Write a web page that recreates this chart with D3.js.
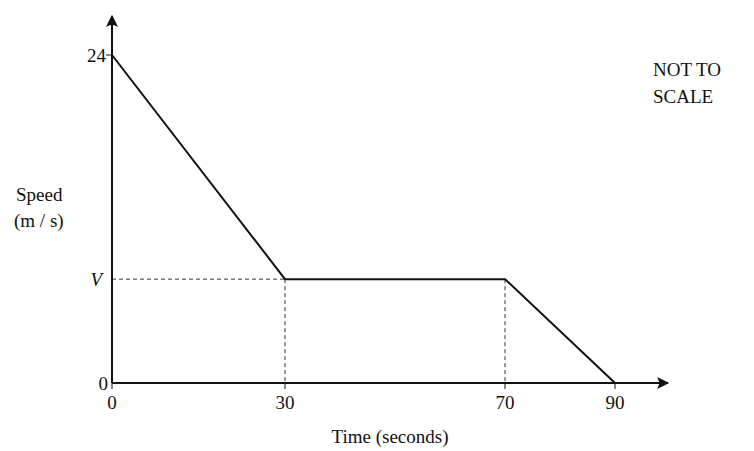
<!DOCTYPE html>
<html><head><meta charset="utf-8">
<script src="https://cdn.jsdelivr.net/npm/d3@7"></script>
<style>body{margin:0;background:#fff}text{font-family:"Times New Roman","Liberation Serif",Times,serif;font-size:19px;fill:#111}</style>
</head><body><div id="chart"></div>
<script>
// graph is "not to scale", so a piecewise time scale
const times = [0, 30, 70, 90];
const speeds = [24, 7.6, 7.6, 0];
const xTicks = [0, 30, 70, 90];
const vLevel = 7.6;

const svg = d3.select("#chart").append("svg").attr("width", 754).attr("height", 451);
const x = d3.scaleLinear().domain(times).range([112, 285, 505, 615]);
const y = d3.scaleLinear().domain([0, 24]).range([383, 55]);

// arrow heads
const defs = svg.append("defs");
defs.append("marker").attr("id", "arr").attr("viewBox", "0 0 10 10")
  .attr("refX", 9).attr("refY", 5).attr("markerWidth", 14).attr("markerHeight", 12)
  .attr("markerUnits", "userSpaceOnUse").attr("orient", "auto")
  .append("path").attr("d", "M0,0L10,5L0,10L2,5Z").attr("fill", "#111");

// dashed guides
const dash = svg.append("g").attr("stroke", "#333").attr("stroke-dasharray", "4,3").attr("stroke-width", 1);
dash.append("line").attr("x1", x(0)).attr("x2", x(30)).attr("y1", y(vLevel)).attr("y2", y(vLevel));
[30, 70].forEach(t => dash.append("line").attr("x1", x(t)).attr("x2", x(t)).attr("y1", y(vLevel)).attr("y2", y(0)));

// axes
svg.append("line").attr("x1", x(0)).attr("y1", y(0)).attr("x2", 668).attr("y2", y(0))
  .attr("stroke", "#111").attr("stroke-width", 2).attr("marker-end", "url(#arr)");
svg.append("line").attr("x1", x(0)).attr("y1", y(0)).attr("x2", x(0)).attr("y2", 16)
  .attr("stroke", "#111").attr("stroke-width", 2).attr("marker-end", "url(#arr)");

// ticks
xTicks.forEach(t => {
  svg.append("line").attr("x1", x(t)).attr("x2", x(t)).attr("y1", y(0)).attr("y2", y(0) + 6).attr("stroke", "#111");
  svg.append("text").attr("x", x(t)).attr("y", y(0) + 26).attr("text-anchor", "middle").text(t);
});
svg.append("line").attr("x1", x(0) - 6).attr("x2", x(0)).attr("y1", y(24)).attr("y2", y(24)).attr("stroke", "#111");
svg.append("text").attr("x", x(0) - 6).attr("y", y(24) + 7).attr("text-anchor", "end").text("24");
svg.append("text").attr("x", x(0) - 4).attr("y", y(0) + 7).attr("text-anchor", "end").text("0");
svg.append("text").attr("x", x(0) - 10).attr("y", y(vLevel) + 7).attr("text-anchor", "end")
  .style("font-style", "italic").text("V");

// the speed line
svg.append("path").datum(times.map((t, i) => [t, speeds[i]]))
  .attr("d", d3.line().x(d => x(d[0])).y(d => y(d[1])))
  .attr("fill", "none").attr("stroke", "#111").attr("stroke-width", 2);

// labels
svg.append("text").attr("x", 390).attr("y", 443).attr("text-anchor", "middle").text("Time (seconds)");
svg.append("text").attr("x", 16).attr("y", 201).text("Speed");
svg.append("text").attr("x", 14).attr("y", 227).text("(m / s)");
svg.append("text").attr("x", 653).attr("y", 76).text("NOT TO");
svg.append("text").attr("x", 653).attr("y", 103).text("SCALE");
</script></body></html>
